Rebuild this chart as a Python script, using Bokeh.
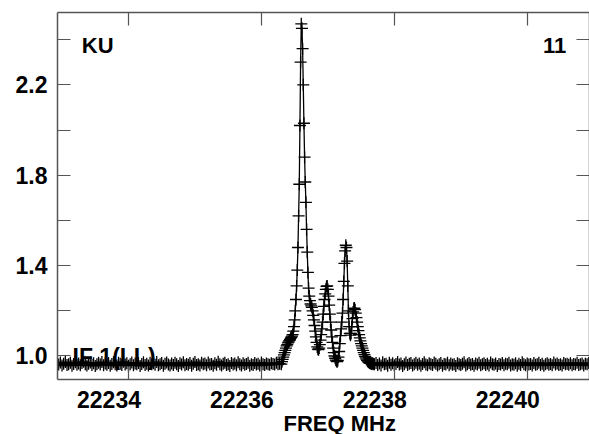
import numpy as np
from bokeh.plotting import figure
from bokeh.models import (Range1d, FixedTicker, LinearAxis, CustomJSTickFormatter,
                          PrintfTickFormatter, Label, Title)
from bokeh.embed import file_html
from bokeh.resources import INLINE

# ---------------- data ----------------
# channel grids (MHz)
base_left_start = 22232.925
base_right_start = 22237.70
base_step = 0.025
line_start = 22236.31
line_step = 0.01

base_left_vals = [
    0.968, 0.962, 0.971, 0.958, 0.966, 0.973, 0.960, 0.964, 0.970, 0.957,
    0.965, 0.972, 0.961, 0.967, 0.959, 0.969, 0.974, 0.963, 0.958, 0.966,
    0.971, 0.960, 0.968, 0.956, 0.964, 0.970, 0.962, 0.973, 0.959, 0.967,
    0.961, 0.969, 0.957, 0.965, 0.972, 0.963, 0.958, 0.970, 0.966, 0.960,
    0.974, 0.962, 0.968, 0.957, 0.964, 0.971, 0.959, 0.967, 0.963, 0.969,
    0.956, 0.965, 0.972, 0.960, 0.966, 0.958, 0.970, 0.963, 0.968, 0.961,
    0.973, 0.959, 0.964, 0.969, 0.957, 0.966, 0.971, 0.962, 0.958, 0.967,
    0.960, 0.970, 0.964, 0.956, 0.968, 0.962, 0.972, 0.959, 0.965, 0.961,
    0.969, 0.957, 0.966, 0.973, 0.960, 0.964, 0.958, 0.970, 0.963, 0.967,
    0.959, 0.971, 0.962, 0.965, 0.957, 0.968, 0.961, 0.974, 0.963, 0.958,
    0.966, 0.970, 0.960, 0.964, 0.956, 0.969, 0.962, 0.967, 0.959, 0.972,
    0.963, 0.958, 0.968, 0.961, 0.965, 0.970, 0.957, 0.964, 0.960, 0.969,
    0.962, 0.966, 0.958, 0.971, 0.963, 0.960, 0.967, 0.964, 0.961, 0.968,
    0.965, 0.962, 0.970, 0.963, 0.966, 0.964,
]

line_vals = [
    0.975, 0.985, 0.995, 1.005, 1.015, 1.025, 1.035, 1.045, 1.050, 1.058,
    1.062, 1.068, 1.072, 1.078, 1.083, 1.088, 1.095, 1.110, 1.130, 1.160,
    1.200, 1.250, 1.310, 1.380, 1.480, 1.620, 1.760, 2.020, 2.300, 2.470,
    2.450, 2.360, 2.200, 2.030, 1.880, 1.770, 1.680, 1.560, 1.460, 1.370,
    1.300, 1.265, 1.245, 1.230, 1.222, 1.215, 1.200, 1.180, 1.160, 1.135,
    1.110, 1.085, 1.060, 1.040, 1.030, 1.028, 1.035, 1.050, 1.070, 1.095,
    1.120, 1.150, 1.185, 1.220, 1.250, 1.275, 1.295, 1.308, 1.310, 1.295,
    1.265, 1.225, 1.185, 1.150, 1.115, 1.085, 1.060, 1.035, 1.015, 1.000,
    0.990, 0.982, 0.977, 0.975, 0.980, 0.995, 1.020, 1.055, 1.090, 1.120,
    1.150, 1.190, 1.250, 1.330, 1.410, 1.465, 1.490, 1.480, 1.420, 1.310,
    1.200, 1.130, 1.100, 1.092, 1.100, 1.130, 1.165, 1.195, 1.210, 1.212,
    1.205, 1.190, 1.170, 1.150, 1.130, 1.112, 1.095, 1.080, 1.067, 1.055,
    1.045, 1.035, 1.025, 1.015, 1.006, 0.998, 0.992, 0.986, 0.981, 0.977,
    0.973, 0.971, 0.969, 0.967, 0.970, 0.965, 0.968, 0.963, 0.966,
]

base_right_vals = [
    0.964, 0.969, 0.960, 0.967, 0.958, 0.972, 0.963, 0.966, 0.957, 0.970,
    0.961, 0.968, 0.959, 0.965, 0.973, 0.962, 0.967, 0.956, 0.964, 0.971,
    0.960, 0.966, 0.969, 0.958, 0.963, 0.970, 0.961, 0.967, 0.957, 0.965,
    0.972, 0.962, 0.959, 0.968, 0.964, 0.960, 0.971, 0.966, 0.958, 0.963,
    0.969, 0.957, 0.965, 0.962, 0.970, 0.959, 0.967, 0.961, 0.964, 0.956,
    0.968, 0.963, 0.960, 0.966, 0.972, 0.958, 0.964, 0.969, 0.961, 0.965,
    0.957, 0.967, 0.962, 0.970, 0.959, 0.963, 0.968, 0.960, 0.966, 0.958,
    0.971, 0.964, 0.961, 0.967, 0.956, 0.965, 0.962, 0.969, 0.959, 0.966,
    0.963, 0.970, 0.958, 0.964, 0.961, 0.968, 0.957, 0.966, 0.960, 0.972,
    0.963, 0.959, 0.967, 0.962, 0.965, 0.958, 0.969, 0.961, 0.964, 0.970,
    0.960, 0.966, 0.957, 0.963, 0.968, 0.961, 0.965, 0.959, 0.971, 0.962,
    0.967, 0.960, 0.964, 0.958, 0.969, 0.963, 0.966, 0.961, 0.968, 0.959,
    0.965, 0.962, 0.970, 0.960, 0.964, 0.967, 0.958, 0.966, 0.963, 0.969,
    0.961,
]

x_ticks = [22234, 22236, 22238, 22240]
y_major_ticks = [1.0, 1.4, 1.8, 2.2]
y_minor_ticks = [1.2, 1.6, 2.0, 2.4]

x_label = "FREQ MHz"
source_label = "KU"
number_label = "11"
if_label = "IF 1(LL)"

# ---------------- build series ----------------
freq = np.concatenate([
    base_left_start + base_step * np.arange(len(base_left_vals)),
    line_start + line_step * np.arange(len(line_vals)),
    base_right_start + base_step * np.arange(len(base_right_vals)),
])
ampl = np.array(base_left_vals + line_vals + base_right_vals)

# ---------------- figure ----------------
FONT = "Liberation Sans"
AX_COLOR = "#555555"

p = figure(width=589, height=434,
           x_range=Range1d(22232.932, 22240.937),
           y_range=Range1d(0.896, 2.520),
           output_backend="svg", toolbar_location=None,
           min_border_left=57, min_border_right=0,
           min_border_top=12, min_border_bottom=54)
p.outline_line_color = None
p.xgrid.visible = False
p.ygrid.visible = False
p.background_fill_color = "white"
p.border_fill_color = "white"

def style_axis(ax):
    ax.axis_line_color = AX_COLOR
    ax.axis_line_width = 1.5
    ax.major_tick_in = 13
    ax.major_tick_out = 0
    ax.minor_tick_in = 13
    ax.minor_tick_out = 0
    ax.major_tick_line_color = AX_COLOR
    ax.minor_tick_line_color = AX_COLOR
    ax.major_tick_line_width = 1.2
    ax.minor_tick_line_width = 1.2
    ax.major_label_text_font = FONT
    ax.major_label_text_font_style = "bold"
    ax.major_label_text_font_size = "23px"
    ax.major_label_text_color = "black"

# bottom axis: tick marks only
xa = p.xaxis[0]
xa.ticker = FixedTicker(ticks=x_ticks, minor_ticks=[])
style_axis(xa)
xa.formatter = CustomJSTickFormatter(code="return '';")
xa.major_label_text_font_size = "0px"
xa.major_label_standoff = 0

# bottom tick labels (offset to the left as in the original)
label_shift = 0.293
xb = LinearAxis(ticker=FixedTicker(ticks=[round(t - label_shift, 3) for t in x_ticks], minor_ticks=[]),
                formatter=CustomJSTickFormatter(code="return (tick + shift).toFixed(0);",
                                                args=dict(shift=label_shift)))
style_axis(xb)
xb.axis_line_color = None
xb.major_tick_line_color = None
xb.minor_tick_line_color = None
xb.major_tick_in = 0
xb.minor_tick_in = 0
xb.major_label_standoff = 11
xb.major_label_text_line_height = 0.85
p.add_layout(xb, "below")

# axis title below the tick labels
p.add_layout(Title(text=x_label, align="left", offset=226, standoff=-3,
                   text_font=FONT, text_font_style="bold", text_font_size="22px",
                   text_line_height=0.85, text_color="black"), "below")

# left axis
ya = p.yaxis[0]
ya.ticker = FixedTicker(ticks=y_major_ticks, minor_ticks=y_minor_ticks)
ya.formatter = PrintfTickFormatter(format="%.1f")
style_axis(ya)
ya.major_label_standoff = 10

# top & right axes (ticks only)
xt = LinearAxis(ticker=FixedTicker(ticks=x_ticks, minor_ticks=[]),
                formatter=CustomJSTickFormatter(code="return '';"))
style_axis(xt)
xt.major_label_text_font_size = "0px"
xt.major_label_standoff = 0
p.add_layout(xt, "above")

yr = LinearAxis(ticker=FixedTicker(ticks=y_major_ticks, minor_ticks=y_minor_ticks),
                formatter=CustomJSTickFormatter(code="return '';"))
style_axis(yr)
yr.major_label_text_font_size = "0px"
yr.major_label_standoff = 0
p.add_layout(yr, "right")

# text labels
p.add_layout(Label(x=22233.158, y=0.994, text=if_label, text_font=FONT,
                   text_font_style="bold", text_font_size="23px", text_color="black",
                   text_align="left", text_baseline="alphabetic", level="underlay"))
p.add_layout(Label(x=22233.298, y=2.375, text=source_label, text_font=FONT,
                   text_font_style="bold", text_font_size="22px", text_color="black",
                   text_align="left", text_baseline="alphabetic"))
p.add_layout(Label(x=22240.586, y=2.375, text=number_label, text_font=FONT,
                   text_font_style="bold", text_font_size="22px", text_color="black",
                   text_align="right", text_baseline="alphabetic"))

# spectrum
p.line(freq, ampl, line_color="black", line_width=1.3)
p.scatter(freq, ampl, marker="cross", size=12, line_color="black", line_width=1.3)

open("out.html", "w").write(file_html(p, INLINE))
